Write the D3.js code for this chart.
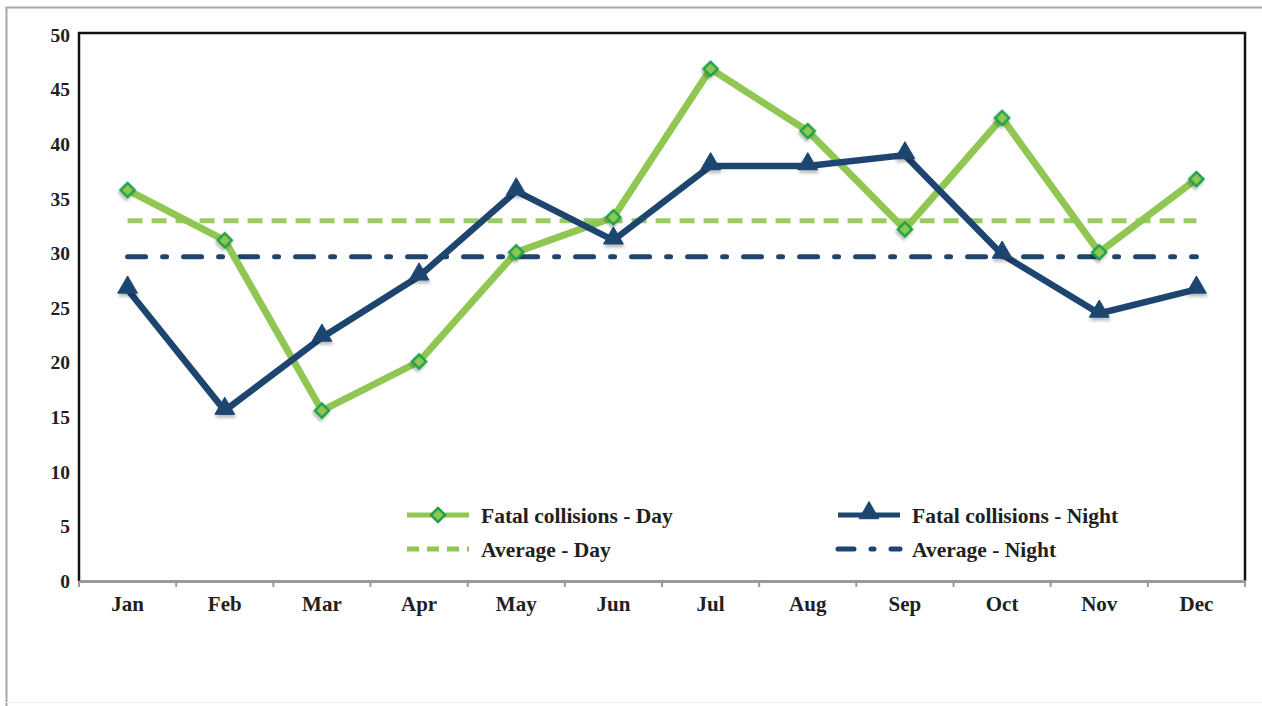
<!DOCTYPE html>
<html>
<head>
<meta charset="utf-8">
<script src="https://cdn.jsdelivr.net/npm/d3@7/dist/d3.min.js"></script>
<style>
  html, body { margin: 0; padding: 0; background: #fff; }
  svg { display: block; }
  text { font-family: "Liberation Serif", "Times New Roman", serif; font-weight: bold; fill: #231f20; }
</style>
</head>
<body>
<svg id="chart" width="1262" height="706"></svg>
<script>
const months = ["Jan","Feb","Mar","Apr","May","Jun","Jul","Aug","Sep","Oct","Nov","Dec"];
const dayValues = [35.8, 31.2, 15.6, 20.1, 30.1, 33.3, 46.9, 41.2, 32.2, 42.4, 30.1, 36.8];
const nightValues = [26.7, 15.6, 22.3, 27.9, 35.7, 31.2, 38.0, 38.0, 39.0, 29.9, 24.5, 26.7];
const dayAverage = [33.0, 33.0, 33.0, 33.0, 33.0, 33.0, 33.0, 33.0, 33.0, 33.0, 33.0, 33.0];
const nightAverage = [29.7, 29.7, 29.7, 29.7, 29.7, 29.7, 29.7, 29.7, 29.7, 29.7, 29.7, 29.7];
const yTicks = [0, 5, 10, 15, 20, 25, 30, 35, 40, 45, 50];
const seriesNames = ["Fatal collisions - Day", "Fatal collisions - Night", "Average - Day", "Average - Night"];

const GREEN = "#8fc752";
const GREEN_DARK = "#1fa04a";
const NAVY = "#1d4570";

const svg = d3.select("#chart");
const defs = svg.append("defs");
const f = defs.append("filter").attr("id","shadow").attr("x","-50%").attr("y","-50%").attr("width","200%").attr("height","200%");
f.append("feDropShadow").attr("dx",1).attr("dy",3).attr("stdDeviation",1.5).attr("flood-color","#000").attr("flood-opacity",0.25);

// outer frame
svg.append("path").attr("d","M6.5,706 L6.5,7.5 L1262,7.5").attr("fill","none").attr("stroke","#a8a8a8").attr("stroke-width",2);
svg.append("line").attr("x1",6).attr("x2",1262).attr("y1",702.5).attr("y2",702.5).attr("stroke","#eeeeee").attr("stroke-width",1);

const pLeft = 79, pRight = 1245, pTop = 33, pBottom = 581;
const x = d3.scaleBand().domain(months).range([pLeft, pRight]).padding(0);
const y = d3.scaleLinear().domain([0, 50]).range([pBottom, 35]);
const cx = m => x(m) + x.bandwidth() / 2;

// plot border (top/right/left black)
svg.append("path").attr("d",`M${pLeft},${pBottom} L${pLeft},${pTop} L${pRight},${pTop} L${pRight},${pBottom}`)
  .attr("fill","none").attr("stroke","#111").attr("stroke-width",2.5);

// x axis
const xAxis = d3.axisBottom(x).tickSize(0).tickPadding(15);
const xg = svg.append("g").attr("transform",`translate(0,${pBottom})`).call(xAxis);
xg.select(".domain").attr("stroke","#9a9a9a").attr("stroke-width",3);
xg.selectAll(".tick text").attr("font-size",21).style("font-family","Liberation Serif").style("font-weight","bold").attr("fill","#231f20");
const bounds = months.map(m => x(m)).concat([pRight]);
svg.append("g").selectAll("line").data(bounds).join("line")
  .attr("x1",d=>d).attr("x2",d=>d).attr("y1",pBottom).attr("y2",pBottom+6)
  .attr("stroke","#9a9a9a").attr("stroke-width",2);

// y axis
const yAxis = d3.axisLeft(y).tickValues(yTicks).tickSize(0).tickPadding(9);
const yg = svg.append("g").attr("transform",`translate(${pLeft},0)`).call(yAxis);
yg.select(".domain").remove();
yg.selectAll(".tick text").attr("font-size",19.5).style("font-family","Liberation Serif").style("font-weight","bold").attr("fill","#231f20");

// average lines
const line = d3.line().x((d,i)=>cx(months[i])).y(d=>y(d));
svg.append("path").datum(dayAverage).attr("d",line).attr("fill","none")
  .attr("stroke",GREEN).attr("stroke-width",5).attr("stroke-dasharray","15,9").attr("stroke-opacity",0.9);
svg.append("path").datum(nightAverage).attr("d",line).attr("fill","none")
  .attr("stroke",NAVY).attr("stroke-width",5).attr("stroke-dasharray","18,17,4,17").attr("stroke-linecap","round");

// day series
svg.append("path").datum(dayValues).attr("d",line).attr("fill","none")
  .attr("stroke",GREEN).attr("stroke-width",7).attr("stroke-linejoin","miter");
// night series
svg.append("path").datum(nightValues).attr("d",line).attr("fill","none")
  .attr("stroke",NAVY).attr("stroke-width",6.5).attr("stroke-linejoin","miter");

const diamond = d3.symbol().type(d3.symbolSquare).size(100);
const triangle = d3.symbol().type(d3.symbolTriangle).size(170);

svg.append("g").selectAll("path").data(dayValues).join("path")
  .attr("d",diamond)
  .attr("transform",(d,i)=>`translate(${cx(months[i])},${y(d)}) rotate(45)`)
  .attr("fill",GREEN).attr("stroke",GREEN_DARK).attr("stroke-width",2.5)
  .attr("filter","url(#shadow)");
svg.append("g").selectAll("path").data(nightValues).join("path")
  .attr("d",triangle)
  .attr("transform",(d,i)=>`translate(${cx(months[i])},${y(d)-2})`)
  .attr("fill",NAVY).attr("stroke",NAVY).attr("stroke-width",1)
  .attr("filter","url(#shadow)");

// legend
const legend = [
  {name: seriesNames[0], x: 407, y: 515, color: GREEN, width: 5, dash: null, marker: "diamond"},
  {name: seriesNames[2], x: 407, y: 549, color: GREEN, width: 5, dash: "12,8", marker: null},
  {name: seriesNames[1], x: 838, y: 515, color: NAVY, width: 5, dash: null, marker: "triangle"},
  {name: seriesNames[3], x: 838, y: 549, color: NAVY, width: 5, dash: "16,17,3,17", marker: null}
];
legend.forEach(l => {
  const g = svg.append("g");
  g.append("line").attr("x1",l.x).attr("x2",l.x+62).attr("y1",l.y).attr("y2",l.y)
    .attr("stroke",l.color).attr("stroke-width",l.width).attr("stroke-dasharray",l.dash)
    .attr("stroke-linecap", l.dash && l.color===NAVY ? "round" : "butt");
  if (l.marker === "diamond") {
    g.append("path").attr("d",diamond).attr("transform",`translate(${l.x+31},${l.y}) rotate(45)`)
      .attr("fill",GREEN).attr("stroke",GREEN_DARK).attr("stroke-width",2.5);
  } else if (l.marker === "triangle") {
    g.append("path").attr("d",triangle).attr("transform",`translate(${l.x+31},${l.y-2})`)
      .attr("fill",NAVY).attr("stroke",NAVY).attr("stroke-width",1);
  }
  g.append("text").attr("x",l.x+74).attr("y",l.y).attr("dy","0.35em").attr("font-size",21.5).text(l.name);
});
</script>
</body>
</html>
